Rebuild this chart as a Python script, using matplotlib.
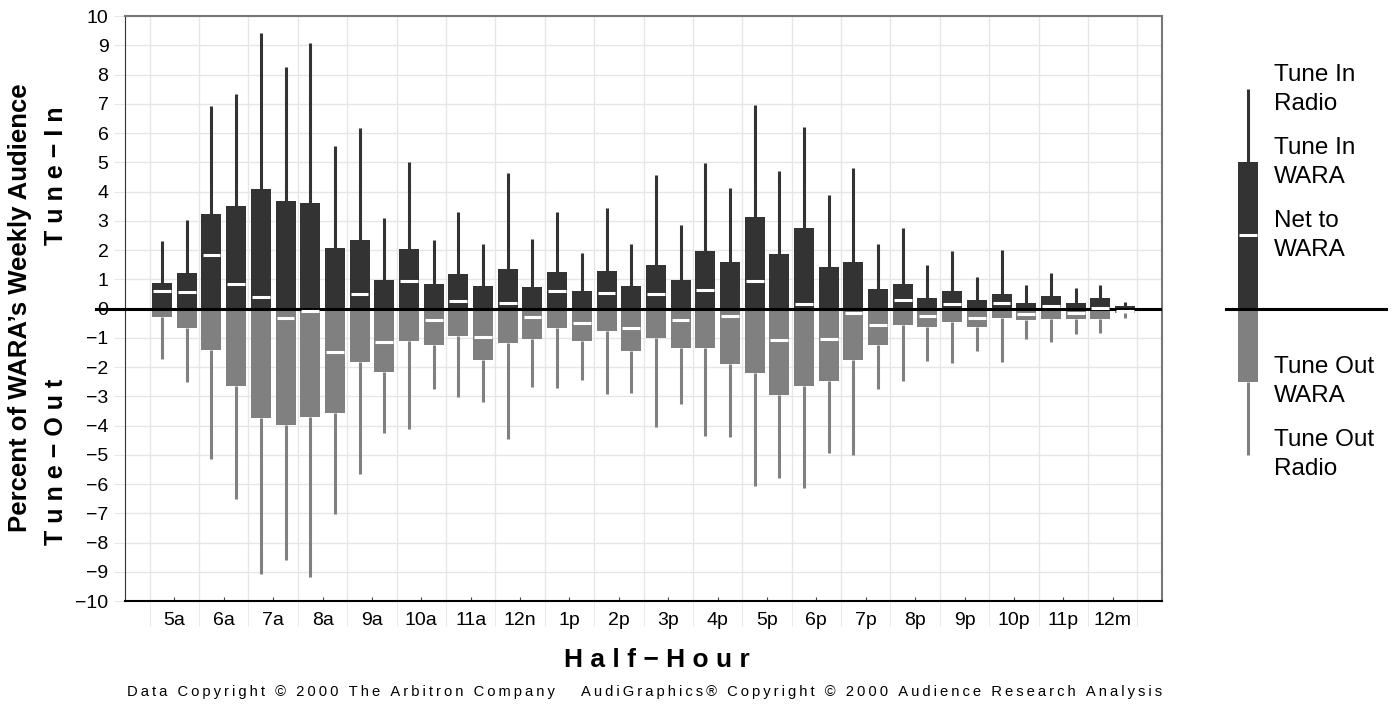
import matplotlib
matplotlib.use("Agg")
import matplotlib.pyplot as plt

plt.rcParams["font.family"] = ["Liberation Sans", "DejaVu Sans"]

hour_labels = ["5a", "6a", "7a", "8a", "9a", "10a", "11a", "12n", "1p", "2p",
               "3p", "4p", "5p", "6p", "7p", "8p", "9p", "10p", "11p", "12m"]

# one value per half-hour, 5a .. 12:30m
tune_in_radio = [2.31, 3.03, 6.94, 7.33, 9.42, 8.27, 9.09, 5.56, 6.16, 3.08,
                 5.02, 2.35, 3.29, 2.22, 4.63, 2.39, 3.31, 1.90, 3.42, 2.21,
                 4.56, 2.87, 4.97, 4.11, 6.97, 4.70, 6.22, 3.88, 4.82, 2.19,
                 2.76, 1.50, 1.96, 1.09, 1.99, 0.82, 1.20, 0.70, 0.82, 0.21]
tune_in_wara = [0.86, 1.21, 3.22, 3.50, 4.08, 3.67, 3.60, 2.06, 2.33, 0.97,
                2.03, 0.83, 1.17, 0.76, 1.34, 0.73, 1.24, 0.59, 1.27, 0.76,
                1.48, 0.97, 1.96, 1.58, 3.12, 1.86, 2.74, 1.41, 1.58, 0.66,
                0.83, 0.35, 0.59, 0.28, 0.49, 0.18, 0.42, 0.18, 0.35, 0.08]
tune_out_wara = [-0.29, -0.66, -1.41, -2.64, -3.74, -3.98, -3.70, -3.57, -1.82, -2.17,
                 -1.11, -1.24, -0.94, -1.77, -1.17, -1.04, -0.67, -1.12, -0.78, -1.45,
                 -1.00, -1.35, -1.35, -1.89, -2.20, -2.95, -2.66, -2.47, -1.77, -1.24,
                 -0.56, -0.63, -0.46, -0.63, -0.32, -0.40, -0.37, -0.37, -0.37, -0.17]
tune_out_radio = [-1.73, -2.50, -5.13, -6.51, -9.06, -8.61, -9.19, -7.04, -5.66, -4.25,
                  -4.11, -2.75, -3.03, -3.19, -4.46, -2.70, -2.71, -2.43, -2.92, -2.88,
                  -4.06, -3.27, -4.36, -4.40, -6.06, -5.79, -6.12, -4.95, -5.01, -2.76,
                  -2.48, -1.80, -1.85, -1.46, -1.82, -1.03, -1.14, -0.88, -0.83, -0.34]
net_wara = [0.59, 0.55, 1.83, 0.85, 0.38, -0.33, -0.08, -1.48, 0.51, -1.16,
            0.93, -0.40, 0.27, -0.96, 0.19, -0.29, 0.60, -0.51, 0.52, -0.65,
            0.51, -0.39, 0.63, -0.26, 0.93, -1.07, 0.14, -1.04, -0.17, -0.56,
            0.29, -0.27, 0.14, -0.34, 0.19, -0.19, 0.08, -0.16, 0.02, -0.10]

# legend key values
key_values = [7.5, 5.0, 2.5, -2.5, -5.0]
key_labels = ["Tune In\nRadio", "Tune In\nWARA", "Net to\nWARA", "Tune Out\nWARA", "Tune Out\nRadio"]

DARK = "#333333"
GREY = "#808080"
GRID = "#e6e6e6"

x = list(range(len(tune_in_wara)))

fig = plt.figure(figsize=(13.94, 7.08), dpi=100)
ax = fig.add_axes([0.0897, 0.1511, 0.7439, 0.8263])

# grid
for v in range(-10, 11):
    ax.axhline(v, color=GRID, lw=1.0, zorder=0)
for g in range(-1, 40, 2):
    ax.axvline(g + 0.5, color=GRID, lw=1.0, zorder=0)

ax.vlines(x, tune_in_wara, tune_in_radio, color=DARK, lw=2.2, zorder=2)
ax.vlines(x, tune_out_radio, tune_out_wara, color=GREY, lw=2.2, zorder=2)
ax.bar(x, tune_in_wara, width=0.81, color=DARK, zorder=3)
ax.bar(x, tune_out_wara, width=0.81, color=GREY, zorder=3)
ax.axhline(0, color="black", lw=2.2, zorder=4)
ax.plot([-0.028, 0], [0, 0], color="black", lw=2.2, clip_on=False,
        transform=ax.get_yaxis_transform(), zorder=4)
ax.hlines(net_wara, [i - 0.36 for i in x], [i + 0.36 for i in x], color="white", lw=2.2, zorder=5)

ax.set_xlim(-1.5, 40.5)
ax.set_ylim(-10, 10)
ax.set_yticks(range(-10, 11))
ax.set_yticklabels([str(v).replace("-", "\u2212") for v in range(-10, 11)], fontsize=14)
ax.set_xticks([i * 2 + 0.5 for i in range(len(hour_labels))])
ax.set_xticklabels(hour_labels, fontsize=14)
ax.set_xticks([g + 0.5 for g in range(-1, 40, 2)], minor=True)
ax.tick_params(axis="y", length=8, color=GRID, pad=4)
ax.tick_params(axis="x", which="major", length=3, color="#444444", direction="in", pad=8)
ax.tick_params(axis="x", which="minor", length=18, color=GRID, direction="out")

for s in ["top", "right"]:
    ax.spines[s].set_color("#777777")
    ax.spines[s].set_linewidth(1.5)
ax.spines["left"].set_color("#333333")
ax.spines["bottom"].set_color("black")
ax.spines["bottom"].set_linewidth(1.5)

fig.text(0.014, 0.565, "Percent of WARA\u2019s Weekly Audience", rotation=90,
         fontsize=18.5, fontweight="bold", ha="center", va="center")
fig.text(0.040, 0.752, "T u n e \u2212 I n", rotation=90,
         fontsize=18, fontweight="bold", ha="center", va="center")
fig.text(0.040, 0.348, "T u n e \u2212 O u t", rotation=90,
         fontsize=18, fontweight="bold", ha="center", va="center")
fig.text(0.471, 0.068, "H a l f \u2212 H o u r", fontsize=19, fontweight="bold",
         ha="center", va="center")

spaced = lambda s: "\u2009".join(s)
fig.text(0.091, 0.022, spaced("Data Copyright \u00a9 2000 The Arbitron Company"),
         fontsize=10.6, ha="left", va="center")
fig.text(0.834, 0.022, spaced("AudiGraphics\u00ae Copyright \u00a9 2000 Audience Research Analysis"),
         fontsize=10.6, ha="right", va="center")

# legend key
kx = fig.add_axes([1200 / 1394, 0.1511, 194 / 1394, 0.8263])
kx.set_xlim(0, 1)
kx.set_ylim(-10, 10)
kx.axis("off")
kx.vlines(0.247, key_values[1], key_values[0], color=DARK, lw=2.2)
kx.vlines(0.247, key_values[4], key_values[3], color=GREY, lw=2.2)
kx.bar(0.247, key_values[1], width=0.103, color=DARK, zorder=3)
kx.bar(0.247, key_values[3], width=0.103, color=GREY, zorder=3)
kx.plot([0.134, 0.959], [0, 0], color="black", lw=2.2, zorder=4)
kx.hlines(key_values[2], 0.247 - 0.045, 0.247 + 0.045, color="white", lw=2.2, zorder=5)
for lab, ly in zip(key_labels, key_values):
    kx.text(0.381, ly, lab, fontsize=17.5, ha="left", va="center", linespacing=1.4)

fig.savefig("out.png", dpi=100)
